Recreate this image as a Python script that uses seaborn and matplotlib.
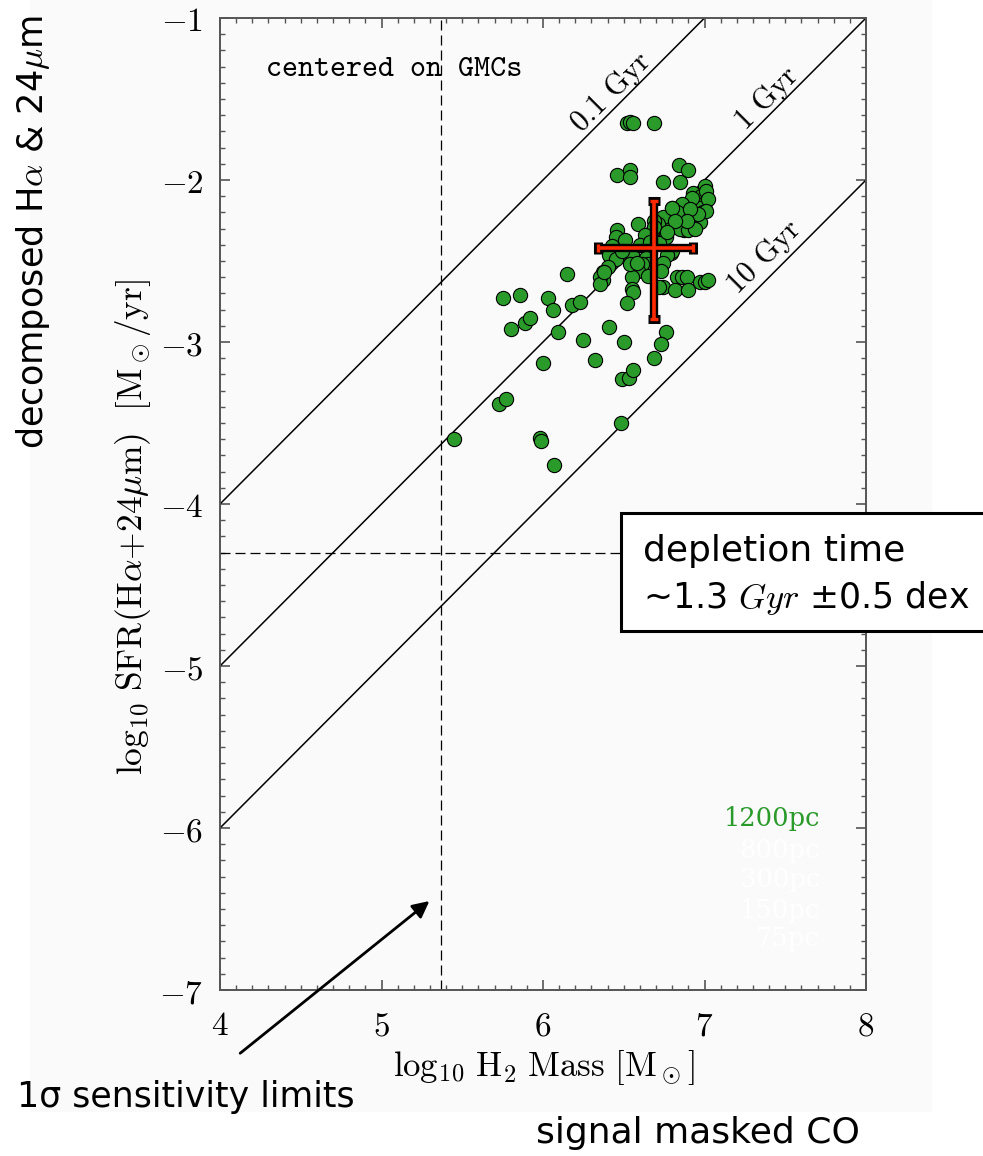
import matplotlib
matplotlib.use("Agg")
import matplotlib.pyplot as plt
import seaborn as sns
import numpy as np
import pandas as pd
from matplotlib.patches import Rectangle
from matplotlib.ticker import MultipleLocator

# ---------------- data ----------------
h2_mass = [6.52, 6.54, 6.56, 6.69, 6.46, 6.54, 6.54, 6.74, 6.84, 6.90,
           6.85, 7.00, 6.93, 6.98, 7.00, 6.97, 6.92, 6.86, 6.80, 6.79,
           6.88, 6.95, 6.99, 6.97, 6.92, 6.87, 6.85, 6.90, 6.94, 6.77,
           6.74, 6.71, 6.69, 6.68, 6.76, 6.72, 6.79, 6.80, 6.77, 6.66,
           6.64, 6.65, 6.59, 6.46, 6.45, 6.51, 6.43, 6.41, 6.45, 6.40,
           6.37, 6.37, 6.55, 6.61, 6.59, 6.55, 6.55, 6.56, 6.52, 6.74,
           6.83, 6.86, 6.89, 6.82, 6.90, 6.97, 7.00, 7.02, 6.74, 6.69,
           6.83, 6.80, 6.15, 6.35, 6.35, 6.38, 5.75, 5.86, 6.03, 6.06,
           6.18, 6.23, 5.80, 5.89, 5.92, 6.09, 6.25, 6.41, 6.50, 6.32,
           6.00, 6.49, 6.53, 6.56, 6.76, 6.73, 6.69, 5.73, 5.77, 5.98,
           5.99, 6.07, 6.48, 5.45, 6.72, 7.01, 7.02, 7.01, 6.96, 6.91,
           6.89, 6.82, 6.77, 6.63, 6.60, 6.66, 6.49, 6.54, 6.73, 6.65,
           6.58]
sfr = [-1.65, -1.64, -1.65, -1.65, -1.97, -1.94, -1.98, -2.01, -1.91, -1.94,
       -2.01, -2.04, -2.08, -2.10, -2.14, -2.17, -2.11, -2.15, -2.17, -2.22,
       -2.23, -2.23, -2.20, -2.26, -2.29, -2.31, -2.30, -2.31, -2.30, -2.28,
       -2.23, -2.27, -2.25, -2.31, -2.35, -2.39, -2.45, -2.44, -2.46, -2.45,
       -2.48, -2.52, -2.27, -2.31, -2.35, -2.37, -2.41, -2.46, -2.49, -2.54,
       -2.57, -2.62, -2.46, -2.52, -2.56, -2.60, -2.67, -2.69, -2.76, -2.66,
       -2.60, -2.60, -2.60, -2.68, -2.68, -2.63, -2.63, -2.62, -2.51, -2.29,
       -2.20, -2.17, -2.58, -2.60, -2.64, -2.57, -2.73, -2.71, -2.73, -2.80,
       -2.77, -2.75, -2.92, -2.88, -2.85, -2.94, -2.99, -2.91, -3.00, -3.11,
       -3.13, -3.23, -3.22, -3.17, -2.94, -3.01, -3.10, -3.38, -3.35, -3.59,
       -3.61, -3.76, -3.50, -3.60, -2.66, -2.07, -2.12, -2.19, -2.21, -2.18,
       -2.25, -2.25, -2.32, -2.34, -2.40, -2.38, -2.44, -2.52, -2.56, -2.59,
       -2.51]

mean_mass = 6.69
mean_sfr = -2.42
mass_err = [0.35, 0.24]   # lower, upper
sfr_err = [0.44, 0.29]    # lower, upper

depletion_labels = ["0.1 Gyr", "1 Gyr", "10 Gyr"]
log_tdep_yr = [8, 9, 10]
mass_limit = 5.37
sfr_limit = -4.30

x_ticks = [4, 5, 6, 7, 8]
y_ticks = [-7, -6, -5, -4, -3, -2, -1]
scale_labels = ["1200pc", "800pc", "300pc", "150pc", "75pc"]
scale_colors = ["#2a9a2a", "white", "white", "white", "white"]

# ---------------- style ----------------
sns.set_theme(style="ticks")
plt.rcParams.update({
    "mathtext.fontset": "cm",
    "font.family": ["DejaVu Sans"],
    "text.color": "black",
    "axes.labelcolor": "black",
    "axes.edgecolor": "#555555",
    "axes.linewidth": 1.4,
    "xtick.color": "#555555",
    "ytick.color": "#555555",
    "xtick.labelcolor": "black",
    "ytick.labelcolor": "black",
})

W, H = 983, 1156
fig = plt.figure(figsize=(W / 100, H / 100), dpi=100, facecolor="white")
fig.add_artist(Rectangle((30 / W, 1 - 1111 / H), 901 / W, 1111 / H,
                         transform=fig.transFigure, color="#fafafa", zorder=-10))

ax = fig.add_axes([220 / W, 1 - 990 / H, 646 / W, 972 / H])
ax.set_facecolor("#fafafa")

# depletion-time lines
xl = np.array([4.0, 8.0])
for lab, t in zip(depletion_labels, log_tdep_yr):
    sns.lineplot(x=xl, y=xl - t, color="black", lw=1.1, ax=ax, zorder=1)
label_pos = [6.42, 7.39, 7.37]
label_off = [0.12, 0.11, 0.15]
for lab, t, xp, off in zip(depletion_labels, log_tdep_yr, label_pos, label_off):
    ax.text(xp, xp - t + off, lab, rotation=45, rotation_mode="anchor",
            ha="center", va="center", family="cmr10", fontsize=21.5, zorder=2)

# sensitivity limits
ax.axvline(mass_limit, color="black", lw=0.9, ls=(0, (8, 4)), zorder=1)
ax.axhline(sfr_limit, color="black", lw=0.9, ls=(0, (8, 4)), zorder=1)

# data points
df = pd.DataFrame({"mass": h2_mass, "sfr": sfr})
sns.scatterplot(data=df, x="mass", y="sfr", s=105, color="#2a9a2a",
                edgecolor="black", linewidth=0.8, ax=ax, zorder=3, legend=False)

# mean + scatter cross
ax.errorbar(mean_mass, mean_sfr, xerr=[[mass_err[0]], [mass_err[1]]],
            yerr=[[sfr_err[0]], [sfr_err[1]]], fmt="none", ecolor="black",
            elinewidth=6, capsize=4, capthick=6.5, zorder=4)
ax.errorbar(mean_mass, mean_sfr, xerr=[[mass_err[0]], [mass_err[1]]],
            yerr=[[sfr_err[0]], [sfr_err[1]]], fmt="none", ecolor="#ff2a00",
            elinewidth=2.6, capsize=3, capthick=2.4, zorder=5)

ax.text(5.08, -1.32, "centered on GMCs", family="cmtt10", fontsize=22,
        ha="center", va="center")

scale_y = [-5.94, -6.14, -6.32, -6.51, -6.68]
for lab, col, yy in zip(scale_labels, scale_colors, scale_y):
    ax.text(7.715, yy, lab, color=col, family="DejaVu Serif", fontsize=18.5,
            ha="right", va="center")

ax.set_xlim(4, 8)
ax.set_ylim(-7, -1)
ax.set_xticks(x_ticks, labels=[f"${v}$" for v in x_ticks])
ax.set_yticks(y_ticks, labels=[f"${v}$" for v in y_ticks])
ax.xaxis.set_minor_locator(MultipleLocator(0.1))
ax.yaxis.set_minor_locator(MultipleLocator(0.1))
ax.tick_params(which="both", direction="in", top=True, right=True, labelsize=24)
ax.tick_params(which="major", length=7, width=1.2)
ax.tick_params(which="minor", length=3.5, width=1.0)
ax.tick_params(axis="x", pad=14)
ax.tick_params(axis="y", pad=12)

ax.set_xlabel(r"$\mathrm{log}_{10}\ \mathrm{H_2\ Mass\ [M_\odot]}$", fontsize=25)
ax.set_ylabel(r"$\mathrm{log}_{10}\ \mathrm{SFR(H\alpha{+}24}\mu\mathrm{m)}\ \ [\mathrm{M}_\odot\mathrm{/yr}]$",
              fontsize=25.5)
ax.xaxis.set_label_coords(0.502, -0.060)
ax.yaxis.set_label_coords(-0.104, 0.476)

# annotations outside the axes
fig.add_artist(Rectangle((621 / W, 1 - 631 / H), 420 / W, 118 / H,
                         transform=fig.transFigure, facecolor="white",
                         edgecolor="black", lw=2.2, zorder=10))
fig.text(643 / W, 1 - 551 / H, "depletion time", fontsize=26, ha="left",
         va="center", zorder=11)
fig.text(643 / W, 1 - 598 / H, "~1.3 $\\mathit{Gyr}$ ±0.5 dex", fontsize=25,
         ha="left", va="center", zorder=11)

fig.text(33 / W, 1 - 232 / H, r"decomposed H$\alpha$ & 24$\mu$m", fontsize=25.3,
         rotation=90, ha="center", va="center")
fig.text(186 / W, 1 - 1097 / H, "1σ sensitivity limits", fontsize=25,
         ha="center", va="center")
fig.text(698 / W, 1 - 1133 / H, "signal masked CO", fontsize=26,
         ha="center", va="center")

ax.annotate("", xy=(5.31, -6.44), xycoords="data",
            xytext=(238 / W, 1 - 1055 / H), textcoords="figure fraction",
            arrowprops=dict(arrowstyle="-|>", color="black", lw=2,
                            mutation_scale=25), annotation_clip=False)

fig.savefig("out.png", dpi=100, facecolor="white")
